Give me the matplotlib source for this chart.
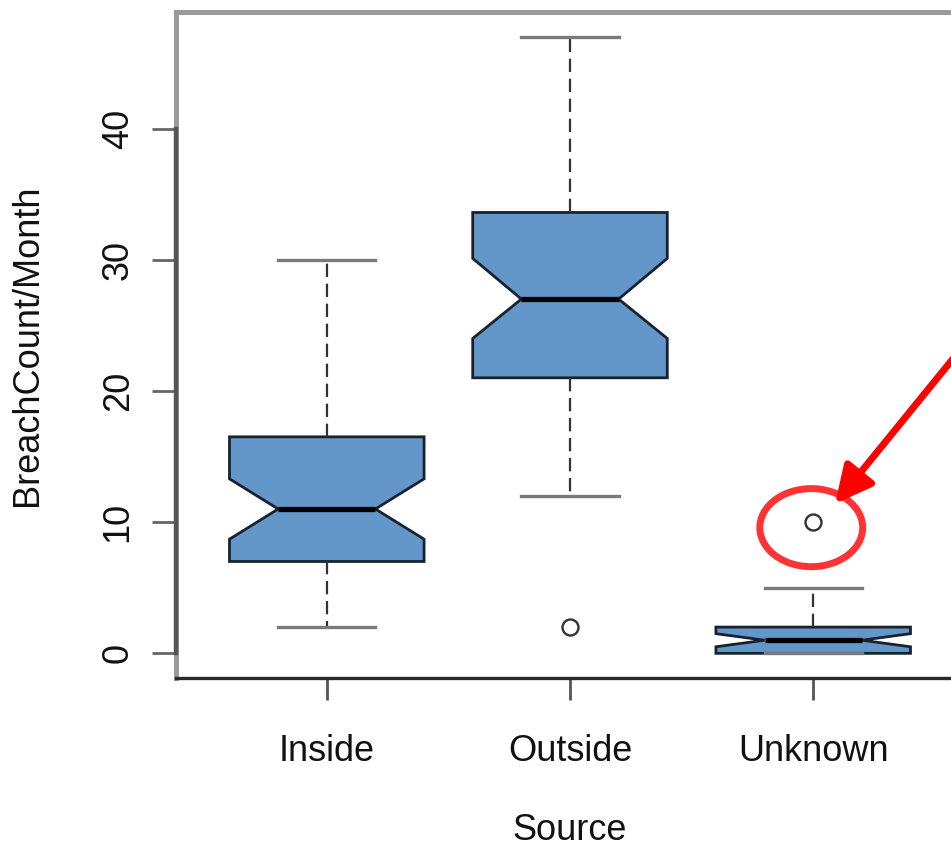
import matplotlib.pyplot as plt
from matplotlib import transforms
from matplotlib.patches import Ellipse

plt.rcParams['font.family'] = ['Liberation Sans', 'DejaVu Sans']

# monthly breach counts by source (five-number summary + notch bounds)
sources = ['Inside', 'Outside', 'Unknown']
medians = [11, 27, 1]
q1 = [7, 21, 0]
q3 = [16.5, 33.6, 2]
whisker_lo = [2, 12, 0]
whisker_hi = [30, 47, 5]
notch_lo = [8.7, 24.0, 0.5]
notch_hi = [13.3, 30.1, 1.5]
outliers = [[], [2], [10]]
y_ticks = [0, 10, 20, 30, 40]

# the outlier that gets circled
flagged = (3, 10)

stats = []
for i, name in enumerate(sources):
    stats.append(dict(
        label=name, med=medians[i], q1=q1[i], q3=q3[i],
        whislo=whisker_lo[i], whishi=whisker_hi[i],
        cilo=notch_lo[i], cihi=notch_hi[i], fliers=outliers[i],
    ))

fig = plt.figure(figsize=(9.51, 8.51), dpi=100)
ax = fig.add_axes([176 / 951, 1 - 678 / 851, (964 - 176) / 951, (678 - 12) / 851])

positions = list(range(1, len(sources) + 1))
ax.bxp(
    stats, positions=positions, widths=0.8, capwidths=0.4,
    shownotches=True, patch_artist=True,
    boxprops=dict(facecolor='#6497c9', edgecolor='#18222e', linewidth=2.0),
    medianprops=dict(color='black', linewidth=3.8),
    whiskerprops=dict(color='#333333', linewidth=1.6, linestyle=(0, (6, 3))),
    capprops=dict(color='#7a7a7a', linewidth=2.4),
    flierprops=dict(marker='o', markerfacecolor='none', markeredgecolor='#333333',
                    markersize=11.5, markeredgewidth=1.7),
)

ax.set_xlim(0.5 - 0.12, len(sources) + 0.5 + 0.12)
ax.set_ylim(-1.88, 48.88)

ax.set_xticks(positions)
ax.set_xticklabels(sources)
ax.set_yticks(y_ticks)
ax.set_yticklabels([str(t) for t in y_ticks], rotation=90, va='center')

ax.tick_params(axis='x', length=16, width=2, pad=24, color='#555555',
               labelsize=26, labelcolor='#111111')
ax.tick_params(axis='y', length=17, width=2, pad=12, color='#666666',
               labelsize=26, labelcolor='#111111')

ax.set_xlabel('Source', fontsize=26, labelpad=32, color='#111111')
ax.set_ylabel('BreachCount/Month', fontsize=26, labelpad=40, color='#111111')

for side in ['top', 'left', 'right']:
    ax.spines[side].set_color('#9a9a9a')
    ax.spines[side].set_linewidth(3.6)
ax.spines['bottom'].set_color('#2a2a2a')
ax.spines['bottom'].set_linewidth(2.4)

# darker axis line between first and last y tick
trans = transforms.blended_transform_factory(ax.transAxes, ax.transData)
ax.plot([0, 0], [y_ticks[0], y_ticks[-1]], transform=trans,
        color='#555555', lw=3.2, clip_on=False, zorder=5)

# red callout around the flagged outlier
ax.add_patch(Ellipse(
    (flagged[0] - 0.008, flagged[1] - 0.42), 0.423, 5.95,
    fill=False, edgecolor='#ff3333', lw=5, zorder=6,
))
ax.annotate(
    '', xy=(flagged[0] + 0.09, flagged[1] + 1.4),
    xytext=(flagged[0] + 0.77, flagged[1] + 16.9),
    arrowprops=dict(arrowstyle='-|>,head_length=0.8,head_width=0.4',
                    color='#ff0000', lw=5, mutation_scale=28, shrinkA=0, shrinkB=0),
    annotation_clip=False, zorder=7,
)

fig.savefig('out.png', dpi=100)
